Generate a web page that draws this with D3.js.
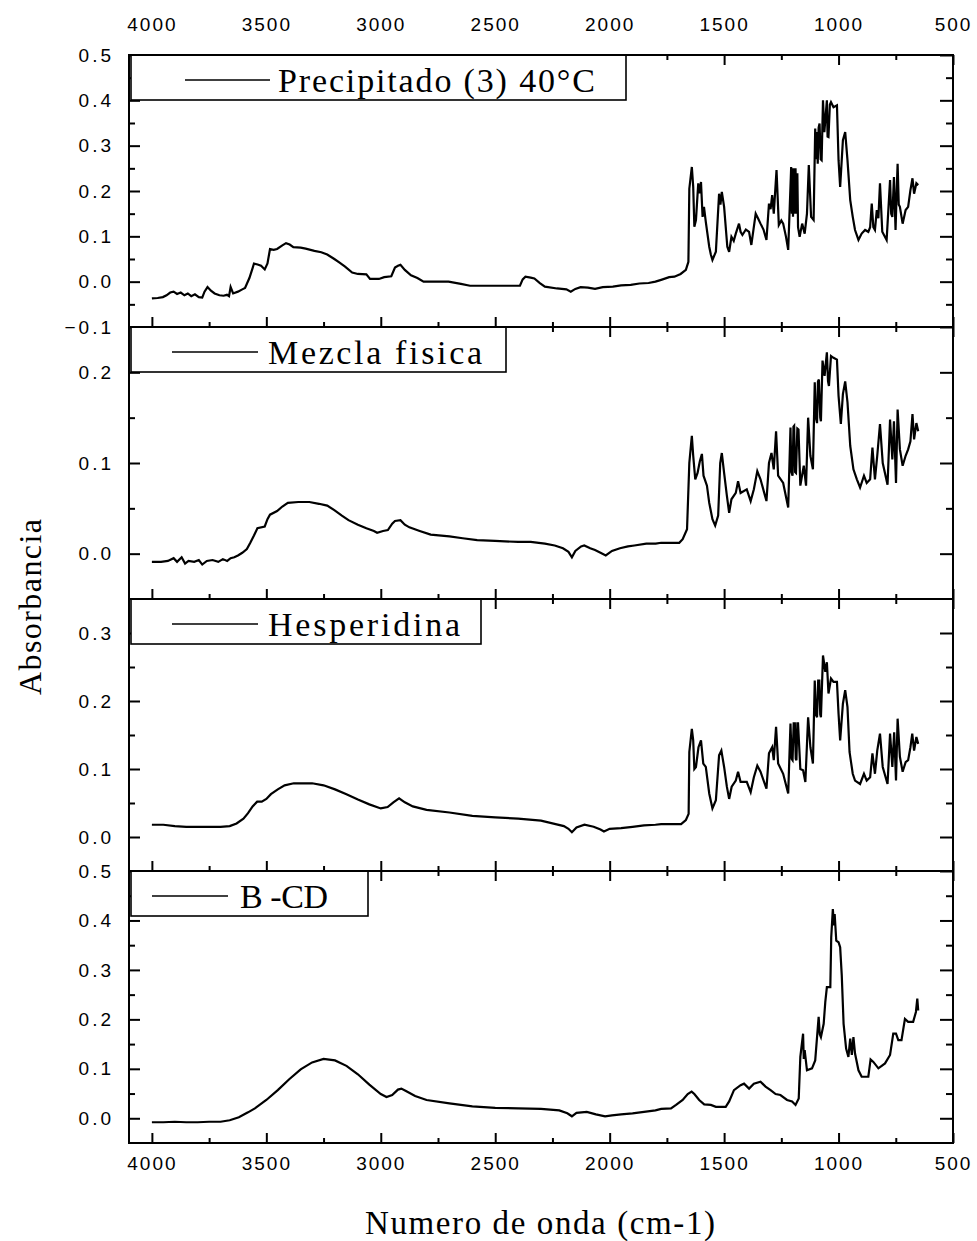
<!DOCTYPE html>
<html>
<head>
<meta charset="utf-8">
<script src="https://cdn.jsdelivr.net/npm/d3@7"></script>
<style>
  body { margin: 0; background: #fff; }
  .tick text { font-family: "Liberation Sans", Arial, sans-serif; fill: #000; }
  .serif { font-family: "Liberation Serif", "Times New Roman", serif; fill: #000; }
</style>
</head>
<body>
<div id="chart"></div>
<script>
// spectra: [numero de onda, absorbancia]
const precipitado = [
  [4000,-0.037],[3975,-0.036],[3952,-0.034],[3936,-0.03],[3920,-0.024],[3905,-0.022],[3890,-0.027],[3874,-0.024],
  [3858,-0.03],[3843,-0.026],[3828,-0.032],[3812,-0.028],[3795,-0.034],[3780,-0.035],[3770,-0.022],[3757,-0.012],
  [3742,-0.02],[3726,-0.026],[3705,-0.03],[3687,-0.031],[3672,-0.029],[3663,-0.032],[3656,-0.012],[3645,-0.026],
  [3624,-0.022],[3605,-0.017],[3593,-0.014],[3574,0.008],[3560,0.03],[3554,0.04],[3538,0.038],[3523,0.035],
  [3507,0.027],[3495,0.04],[3484,0.072],[3468,0.07],[3453,0.072],[3430,0.08],[3414,0.085],[3398,0.082],
  [3382,0.076],[3350,0.075],[3328,0.073],[3290,0.068],[3260,0.065],[3234,0.06],[3203,0.05],[3180,0.042],
  [3156,0.033],[3125,0.02],[3100,0.017],[3063,0.016],[3047,0.006],[3008,0.006],[2985,0.01],[2954,0.012],
  [2938,0.031],[2925,0.035],[2914,0.037],[2895,0.026],[2868,0.014],[2840,0.008],[2813,0.0],[2704,0.0],
  [2650,-0.005],[2610,-0.009],[2392,-0.009],[2380,0.005],[2368,0.011],[2345,0.009],[2329,0.007],[2305,-0.003],
  [2283,-0.011],[2230,-0.015],[2189,-0.017],[2170,-0.022],[2150,-0.016],[2127,-0.012],[2095,-0.013],[2064,-0.016],
  [2030,-0.012],[1986,-0.011],[1950,-0.008],[1908,-0.007],[1870,-0.004],[1830,-0.003],[1800,0.0],[1775,0.004],
  [1740,0.01],[1717,0.011],[1690,0.017],[1667,0.026],[1656,0.044],
  [1652,0.205],[1641,0.253],[1635,0.209],[1630,0.121],[1623,0.136],[1613,0.217],[1607,0.195],[1601,0.22],
  [1594,0.143],[1588,0.165],[1580,0.132],[1565,0.077],[1558,0.06],[1551,0.048],[1536,0.066],[1522,0.194],
  [1516,0.17],[1510,0.198],[1500,0.165],[1486,0.077],[1478,0.066],[1468,0.099],[1458,0.09],[1449,0.106],
  [1435,0.128],[1428,0.11],[1420,0.103],[1405,0.115],[1391,0.11],[1381,0.081],[1362,0.15],[1352,0.14],
  [1341,0.128],[1328,0.115],[1315,0.092],[1304,0.172],[1297,0.16],[1290,0.191],[1283,0.15],[1271,0.246],
  [1261,0.125],[1250,0.135],[1242,0.128],[1230,0.1],[1220,0.07],
  [1207,0.253],[1204,0.15],[1201,0.25],[1199,0.143],[1195,0.25],[1191,0.15],[1188,0.25],[1184,0.15],
  [1180,0.239],[1177,0.12],[1170,0.099],[1159,0.128],[1148,0.106],[1138,0.15],[1130,0.257],[1125,0.2],
  [1120,0.143],[1109,0.136],[1102,0.338],[1098,0.27],[1094,0.33],[1091,0.26],[1087,0.34],[1083,0.349],
  [1078,0.27],[1074,0.268],[1068,0.4],[1062,0.33],[1058,0.356],[1051,0.4],[1048,0.32],[1044,0.319],
  [1038,0.39],[1033,0.396],[1022,0.385],[1007,0.389],[1000,0.268],[993,0.209],[981,0.312],[971,0.33],
  [961,0.268],[949,0.18],[938,0.143],[928,0.114],[913,0.092],[905,0.1],[899,0.106],[884,0.114],
  [870,0.11],[862,0.12],[855,0.172],[848,0.12],[841,0.114],[833,0.158],[826,0.14],[819,0.217],
  [809,0.11],[790,0.092],[780,0.18],[775,0.224],[770,0.15],[765,0.143],[758,0.231],[751,0.114],
  [746,0.2],[742,0.26],[737,0.17],[732,0.165],[720,0.128],[707,0.158],[696,0.165],[686,0.202],
  [677,0.228],[670,0.194],[660,0.217],[652,0.213]
];

const mezcla = [
  [4000,-0.009],[3960,-0.009],[3930,-0.008],[3905,-0.005],[3890,-0.009],[3870,-0.004],[3855,-0.011],[3840,-0.008],
  [3815,-0.009],[3795,-0.007],[3780,-0.012],[3760,-0.008],[3735,-0.007],[3710,-0.009],[3690,-0.006],[3671,-0.008],
  [3656,-0.005],[3640,-0.004],[3624,-0.002],[3605,0.001],[3585,0.005],[3570,0.012],[3554,0.02],[3539,0.028],
  [3507,0.03],[3495,0.038],[3484,0.043],[3453,0.047],[3430,0.052],[3406,0.056],[3360,0.057],[3312,0.057],
  [3270,0.055],[3234,0.053],[3203,0.048],[3170,0.042],[3141,0.037],[3100,0.032],[3063,0.028],[3030,0.025],
  [3016,0.023],[2990,0.025],[2969,0.026],[2950,0.033],[2938,0.036],[2914,0.037],[2895,0.032],[2875,0.029],
  [2830,0.025],[2782,0.021],[2700,0.019],[2642,0.017],[2579,0.015],[2501,0.014],[2400,0.013],[2345,0.013],
  [2283,0.011],[2240,0.009],[2204,0.006],[2180,0.002],[2165,-0.004],[2150,0.003],[2125,0.008],[2111,0.009],
  [2085,0.006],[2064,0.004],[2040,0.001],[2017,-0.002],[1990,0.003],[1955,0.006],[1920,0.008],[1892,0.009],
  [1840,0.011],[1799,0.011],[1775,0.012],[1696,0.012],[1681,0.016],[1662,0.027],
  [1652,0.10],[1641,0.13],[1635,0.108],[1626,0.082],[1616,0.089],[1606,0.102],[1597,0.11],[1590,0.086],
  [1575,0.075],[1565,0.056],[1551,0.038],[1539,0.031],[1526,0.042],[1517,0.10],[1510,0.111],[1500,0.089],
  [1488,0.064],[1478,0.045],[1468,0.06],[1449,0.067],[1439,0.08],[1428,0.067],[1401,0.071],[1384,0.058],
  [1370,0.071],[1355,0.091],[1341,0.082],[1315,0.058],[1304,0.10],[1293,0.111],[1283,0.093],[1273,0.135],
  [1264,0.086],[1242,0.078],[1220,0.051],[1210,0.139],[1206,0.09],[1201,0.086],[1197,0.14],[1194,0.141],
  [1190,0.09],[1186,0.089],[1180,0.138],[1175,0.137],[1167,0.075],[1152,0.097],[1142,0.075],[1133,0.15],
  [1123,0.108],[1112,0.093],[1104,0.189],[1099,0.15],[1094,0.144],[1090,0.19],[1086,0.192],[1080,0.15],
  [1077,0.146],[1070,0.213],[1061,0.196],[1051,0.222],[1046,0.19],[1042,0.185],[1033,0.218],[1022,0.216],
  [1007,0.214],[1000,0.174],[990,0.143],[981,0.176],[971,0.19],[961,0.167],[949,0.119],[935,0.093],
  [920,0.082],[906,0.073],[889,0.086],[877,0.078],[862,0.082],[852,0.117],[841,0.082],[831,0.108],
  [819,0.143],[807,0.10],[786,0.076],[775,0.148],[765,0.104],[758,0.146],[749,0.078],[742,0.159],
  [732,0.115],[720,0.097],[707,0.108],[696,0.115],[686,0.124],[677,0.154],[670,0.126],[660,0.144],[652,0.135]
];

const hesperidina = [
  [4000,0.018],[3950,0.018],[3900,0.016],[3850,0.015],[3800,0.015],[3750,0.015],[3700,0.015],[3660,0.016],
  [3630,0.02],[3600,0.027],[3580,0.035],[3560,0.045],[3540,0.052],[3520,0.052],[3500,0.056],[3480,0.063],
  [3450,0.07],[3420,0.076],[3380,0.079],[3300,0.079],[3250,0.076],[3200,0.07],[3150,0.063],[3100,0.055],
  [3050,0.048],[3000,0.042],[2970,0.044],[2945,0.051],[2920,0.057],[2895,0.051],[2860,0.045],[2800,0.04],
  [2700,0.036],[2600,0.031],[2500,0.029],[2400,0.027],[2300,0.024],[2250,0.02],[2200,0.016],[2180,0.012],
  [2165,0.007],[2145,0.014],[2110,0.018],[2070,0.015],[2040,0.011],[2025,0.008],[2000,0.012],[1950,0.013],
  [1900,0.015],[1850,0.017],[1800,0.018],[1775,0.019],[1688,0.019],[1667,0.025],[1655,0.034],
  [1652,0.125],[1641,0.159],[1635,0.142],[1630,0.10],[1623,0.103],[1612,0.132],[1601,0.142],[1591,0.108],
  [1580,0.103],[1565,0.064],[1551,0.042],[1536,0.054],[1522,0.12],[1512,0.127],[1500,0.103],[1488,0.074],
  [1478,0.056],[1467,0.074],[1449,0.083],[1439,0.096],[1428,0.081],[1401,0.081],[1384,0.066],[1370,0.088],
  [1355,0.105],[1341,0.096],[1315,0.071],[1304,0.123],[1290,0.132],[1283,0.113],[1273,0.162],[1264,0.108],
  [1242,0.093],[1220,0.064],[1210,0.167],[1205,0.115],[1201,0.113],[1196,0.167],[1191,0.167],[1187,0.115],
  [1184,0.113],[1180,0.167],[1177,0.167],[1167,0.10],[1155,0.098],[1145,0.081],[1133,0.176],[1123,0.132],
  [1112,0.108],[1104,0.23],[1099,0.18],[1094,0.176],[1089,0.23],[1084,0.23],[1080,0.18],[1077,0.176],
  [1068,0.267],[1058,0.243],[1051,0.257],[1044,0.211],[1033,0.233],[1022,0.228],[1007,0.228],[1000,0.181],
  [993,0.142],[981,0.196],[971,0.216],[961,0.191],[952,0.125],[938,0.093],[928,0.083],[906,0.078],
  [889,0.093],[877,0.083],[862,0.088],[852,0.123],[841,0.093],[831,0.127],[819,0.152],[807,0.103],
  [786,0.078],[775,0.152],[765,0.103],[757,0.154],[749,0.083],[742,0.174],[732,0.118],[720,0.096],
  [707,0.11],[696,0.113],[686,0.132],[678,0.152],[670,0.127],[660,0.147],[652,0.137]
];

const bcd = [
  [4000,-0.008],[3950,-0.008],[3900,-0.007],[3850,-0.008],[3800,-0.008],[3750,-0.007],[3700,-0.007],[3660,-0.004],
  [3620,0.002],[3580,0.012],[3550,0.02],[3500,0.037],[3450,0.057],[3400,0.079],[3350,0.099],[3300,0.113],
  [3250,0.12],[3200,0.117],[3150,0.106],[3100,0.089],[3050,0.068],[3000,0.049],[2975,0.043],[2950,0.047],
  [2925,0.058],[2910,0.06],[2890,0.055],[2850,0.045],[2800,0.037],[2700,0.03],[2600,0.024],[2500,0.021],
  [2400,0.02],[2300,0.019],[2220,0.016],[2185,0.01],[2165,0.004],[2145,0.011],[2100,0.013],[2060,0.008],
  [2020,0.004],[1990,0.006],[1950,0.008],[1900,0.01],[1850,0.013],[1800,0.016],[1775,0.019],[1732,0.02],
  [1710,0.027],[1681,0.037],[1659,0.049],[1642,0.054],[1630,0.049],[1609,0.037],[1587,0.028],[1558,0.027],
  [1536,0.023],[1493,0.023],[1478,0.034],[1457,0.057],[1428,0.067],[1413,0.07],[1391,0.06],[1370,0.07],
  [1341,0.074],[1319,0.064],[1297,0.057],[1275,0.049],[1254,0.047],[1225,0.037],[1203,0.034],[1188,0.027],
  [1174,0.04],[1167,0.124],[1155,0.171],[1152,0.12],[1148,0.138],[1138,0.097],[1116,0.101],[1102,0.117],
  [1087,0.205],[1082,0.17],[1077,0.164],[1065,0.191],[1058,0.235],[1051,0.265],[1036,0.265],[1032,0.366],
  [1025,0.423],[1020,0.39],[1017,0.413],[1010,0.359],[1000,0.356],[993,0.346],[986,0.289],[978,0.191],
  [967,0.141],[957,0.124],[949,0.161],[942,0.128],[935,0.164],[928,0.131],[913,0.097],[899,0.084],
  [870,0.084],[860,0.119],[848,0.114],[826,0.101],[797,0.111],[775,0.128],[761,0.171],[749,0.171],
  [739,0.158],[725,0.158],[710,0.201],[696,0.195],[674,0.195],[662,0.215],[656,0.242],[652,0.218]
];

const seriesNames = ["Precipitado (3) 40°C", "Mezcla fisica", "Hesperidina", "B -CD"];
const seriesData = [precipitado, mezcla, hesperidina, bcd];
const yDomains = [[-0.1, 0.5], [-0.05, 0.25], [-0.05, 0.35], [-0.05, 0.5]];
const yMajorTicks = [
  [-0.1, 0, 0.1, 0.2, 0.3, 0.4, 0.5],
  [0, 0.1, 0.2],
  [0, 0.1, 0.2, 0.3],
  [0, 0.1, 0.2, 0.3, 0.4, 0.5]
];
const yMinorTicks = [
  [-0.05, 0.05, 0.15, 0.25, 0.35, 0.45],
  [0.05, 0.15],
  [0.05, 0.15, 0.25],
  [0.05, 0.15, 0.25, 0.35, 0.45]
];
const xMajorTicks = [4000, 3500, 3000, 2500, 2000, 1500, 1000, 500];
const xMinorTicks = [3750, 3250, 2750, 2250, 1750, 1250, 750];

// layout
const width = 977, height = 1241;
const plotLeft = 129, plotRight = 953, plotTop = 55, panelH = 272;
const legendW = [495, 375, 350, 237];
const legendLine = [[185, 270], [172, 258], [172, 258], [152, 228]];
const legendText = [[278, 317], [268, 214], [268, 192], [240, 88]];

const svg = d3.select("#chart").append("svg")
  .attr("width", width)
  .attr("height", height);

const x = d3.scaleLinear().domain([4100, 500]).range([plotLeft, plotRight]);

const line = d3.line();

seriesData.forEach((data, i) => {
  const y0 = plotTop + i * panelH;
  const y = d3.scaleLinear().domain(yDomains[i]).range([y0 + panelH, y0]);
  const g = svg.append("g");

  // spectrum
  line.x(d => x(d[0])).y(d => y(d[1]));
  g.append("path")
    .datum(data)
    .attr("fill", "none")
    .attr("stroke", "#000")
    .attr("stroke-width", 2.2)
    .attr("stroke-linejoin", "miter")
    .attr("d", line);

  // y ticks, left (with labels) and right
  const yl = g.append("g").attr("transform", `translate(${plotLeft},0)`);
  yl.append("g").attr("class", "ylab")
    .call(d3.axisLeft(y).tickValues(yMajorTicks[i]).tickSize(-11).tickPadding(15)
    .tickFormat(d3.format(".1f")));
  yl.append("g").call(d3.axisLeft(y).tickValues(yMinorTicks[i]).tickSize(-6).tickFormat(""));
  const yr = g.append("g").attr("transform", `translate(${plotRight},0)`);
  yr.append("g").call(d3.axisRight(y).tickValues(yMajorTicks[i]).tickSize(-13).tickFormat(""));
  yr.append("g").call(d3.axisRight(y).tickValues(yMinorTicks[i]).tickSize(-7).tickFormat(""));

  // x ticks, top and bottom of every panel
  const xt = g.append("g").attr("transform", `translate(0,${y0})`);
  xt.append("g").call(d3.axisTop(x).tickValues(xMajorTicks).tickSize(-10).tickPadding(24)
    .tickFormat(i === 0 ? d3.format("d") : ""));
  xt.append("g").call(d3.axisTop(x).tickValues(xMinorTicks).tickSize(-5).tickFormat(""));
  const xb = g.append("g").attr("transform", `translate(0,${y0 + panelH})`);
  xb.append("g").call(d3.axisBottom(x).tickValues(xMajorTicks).tickSize(-10).tickPadding(14)
    .tickFormat(i === 3 ? d3.format("d") : ""));
  xb.append("g").call(d3.axisBottom(x).tickValues(xMinorTicks).tickSize(-5).tickFormat(""));

  g.selectAll(".domain").remove();
  g.selectAll(".tick line").attr("stroke", "#000").attr("stroke-width", 2);
  g.selectAll(".tick text").attr("font-size", 19).attr("letter-spacing", "2px");
  g.selectAll(".ylab .tick text").attr("letter-spacing", "3px");

  // legend
  g.append("rect")
    .attr("x", plotLeft + 2).attr("y", y0)
    .attr("width", legendW[i]).attr("height", 45)
    .attr("fill", "#fff").attr("stroke", "#000").attr("stroke-width", 1.6);
  g.append("line")
    .attr("x1", legendLine[i][0]).attr("x2", legendLine[i][1])
    .attr("y1", y0 + 25).attr("y2", y0 + 25)
    .attr("stroke", "#000").attr("stroke-width", 1.6);
  g.append("text")
    .attr("class", "serif")
    .attr("x", legendText[i][0]).attr("y", y0 + 37)
    .attr("font-size", 34)
    .attr("textLength", legendText[i][1])
    .attr("lengthAdjust", "spacing")
    .text(seriesNames[i]);

  // frame
  g.append("rect")
    .attr("x", plotLeft).attr("y", y0)
    .attr("width", plotRight - plotLeft).attr("height", panelH)
    .attr("fill", "none").attr("stroke", "#000").attr("stroke-width", 2);
});

// axis titles
svg.append("text")
  .attr("class", "serif")
  .attr("x", 540).attr("y", 1234)
  .attr("text-anchor", "middle")
  .attr("font-size", 33)
  .attr("textLength", 350)
  .text("Numero de onda (cm-1)");

svg.append("text")
  .attr("class", "serif")
  .attr("transform", "translate(41,607) rotate(-90)")
  .attr("text-anchor", "middle")
  .attr("font-size", 32)
  .attr("textLength", 176)
  .text("Absorbancia");
</script>
</body>
</html>
